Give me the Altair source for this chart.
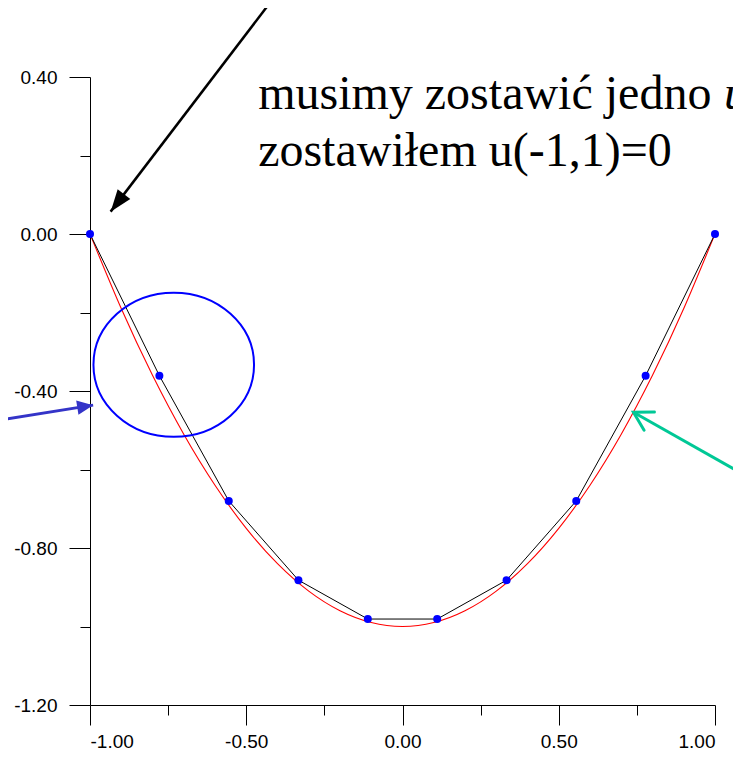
import math
import altair as alt
import pandas as pd

# ---- data ----
node_x = [-1.0, -0.778, -0.556, -0.333, -0.111, 0.111, 0.333, 0.556, 0.778, 1.0]
node_u = [0.0, -0.361, -0.680, -0.882, -0.981, -0.981, -0.882, -0.680, -0.361, 0.0]

curve_x = [-1.0, -0.9, -0.8, -0.7, -0.6, -0.5, -0.4, -0.3, -0.2, -0.1, 0.0,
           0.1, 0.2, 0.3, 0.4, 0.5, 0.6, 0.7, 0.8, 0.9, 1.0]
curve_u = [0.0, -0.19, -0.36, -0.51, -0.64, -0.75, -0.84, -0.91, -0.96, -0.99, -1.0,
           -0.99, -0.96, -0.91, -0.84, -0.75, -0.64, -0.51, -0.36, -0.19, 0.0]

x_ticks = [-1.0, -0.75, -0.5, -0.25, 0.0, 0.25, 0.5, 0.75, 1.0]
y_ticks = [-1.2, -1.0, -0.8, -0.6, -0.4, -0.2, 0.0, 0.2, 0.4]

text_lines = ["musimy zostawić jedno ", "zostawiłem u(-1,1)=0"]
text_italic = ["u"]

# ---- annotation placement (data coordinates) ----
text_x = [-0.462, -0.462]
text_y = [0.318, 0.173]
italic_x = [1.029]
italic_y = [0.318]

arrow_black = dict(x=-0.430, y=0.583, x2=-0.934, y2=0.057)
arrow_blue = dict(x=-1.288, y=-0.474, x2=-0.990, y2=-0.436)
arrow_teal = dict(x=1.083, y=-0.609, x2=0.739, y2=-0.454)
ellipse_c = dict(x=-0.732, y=-0.333)

W, H = 625, 628
XDOM = [-1.0, 1.0]
YDOM = [-1.2, 0.4]
PX = W / (XDOM[1] - XDOM[0])
PY = H / (YDOM[1] - YDOM[0])


def angle_of(a):
    dx = (a["x2"] - a["x"]) * PX
    dy = -(a["y2"] - a["y"]) * PY
    return math.degrees(math.atan2(dy, dx)) % 360


x_major = "abs(datum.value*2 - round(datum.value*2)) < 1e-6"
y_major = "abs(datum.value/0.4 - round(datum.value/0.4)) < 1e-6"

x_axis = alt.Axis(
    values=x_ticks,
    labelExpr=f"{x_major} ? replace(format(datum.value, '.2f'), '\u2212', '-') : ''",
    tickSize={"condition": {"test": x_major, "value": 20}, "value": 10},
    labelPadding=7,
    grid=False,
    title=None,
)
y_axis = alt.Axis(
    values=y_ticks,
    labelExpr=f"{y_major} ? replace(format(datum.value, '.2f'), '\u2212', '-') : ''",
    tickSize={"condition": {"test": y_major, "value": 21}, "value": 10},
    labelPadding=12,
    grid=False,
    title=None,
)


def X(field="x"):
    return alt.X(f"{field}:Q", scale=alt.Scale(domain=XDOM, nice=False, zero=False), axis=x_axis)


def Y(field="y"):
    return alt.Y(f"{field}:Q", scale=alt.Scale(domain=YDOM, nice=False, zero=False), axis=y_axis)


nodes = pd.DataFrame({"x": node_x, "y": node_u})
curve = pd.DataFrame({"x": curve_x, "y": curve_u})

red = alt.Chart(curve).mark_line(color="#ff0000", strokeWidth=1.1, interpolate="natural").encode(x=X(), y=Y())
black = alt.Chart(nodes).mark_line(color="#000000", strokeWidth=1).encode(x=X(), y=Y())
dots = alt.Chart(nodes).mark_circle(color="#0000ff", size=64, opacity=1).encode(x=X(), y=Y())

ellipse_path = "M -1 0 A 1 0.897 0 1 1 1 0 A 1 0.897 0 1 1 -1 0 Z"
ellipse = alt.Chart(pd.DataFrame([ellipse_c])).mark_point(
    shape=ellipse_path, size=25792, filled=False, stroke="#0000ff", strokeWidth=2, opacity=1
).encode(x=X(), y=Y())


def arrow_layers(a, color, width, head_path, head_size, filled):
    df = pd.DataFrame([a])
    rule = alt.Chart(df).mark_rule(color=color, strokeWidth=width, strokeCap="butt").encode(
        x=X(), y=Y(), x2=alt.X2("x2:Q"), y2=alt.Y2("y2:Q")
    )
    if filled:
        head_mark = alt.Chart(df).mark_point(
            shape=head_path, size=head_size, filled=True, fill=color, strokeWidth=0,
            opacity=1, angle=angle_of(a)
        )
    else:
        head_mark = alt.Chart(df).mark_point(
            shape=head_path, size=head_size, filled=False, stroke=color, strokeWidth=width,
            strokeCap="round", strokeJoin="miter", opacity=1, angle=angle_of(a)
        )
    head = head_mark.encode(x=X("x2"), y=Y("y2"))
    return [rule, head]


arrows = []
arrows += arrow_layers(arrow_black, "#000000", 2.5, "M 0 0 L -1 -0.36 L -1 0.36 Z", 1936, True)
arrows += arrow_layers(arrow_blue, "#3434c8", 3, "M 0 0 L -1 -0.45 L -1 0.45 Z", 1024, True)
arrows += arrow_layers(arrow_teal, "#00c896", 3, "M -0.866 -0.5 L 0 0 L -0.866 0.5", 1764, False)

texts = alt.Chart(pd.DataFrame({"x": text_x, "y": text_y, "t": text_lines})).mark_text(
    font="Liberation Serif", fontSize=48, align="left", baseline="alphabetic", color="#000000"
).encode(x=X(), y=Y(), text="t:N")
italic = alt.Chart(pd.DataFrame({"x": italic_x, "y": italic_y, "t": text_italic})).mark_text(
    font="Liberation Serif", fontSize=48, fontStyle="italic", align="left",
    baseline="alphabetic", color="#000000"
).encode(x=X(), y=Y(), text="t:N")

chart = alt.layer(red, black, dots, ellipse, *arrows, texts, italic).properties(
    width=W,
    height=H,
    padding={"left": 82, "top": 69, "right": 18, "bottom": 44},
    autosize=alt.AutoSizeParams(type="none"),
    background="#ffffff",
).configure_view(stroke=None).configure_axis(
    domainColor="#000000",
    domainWidth=1,
    tickColor="#000000",
    tickWidth=1,
    labelFont="Liberation Sans",
    labelFontSize=19,
    labelColor="#000000",
)

chart.save("out.html", embed_options={"renderer": "svg", "actions": False})
